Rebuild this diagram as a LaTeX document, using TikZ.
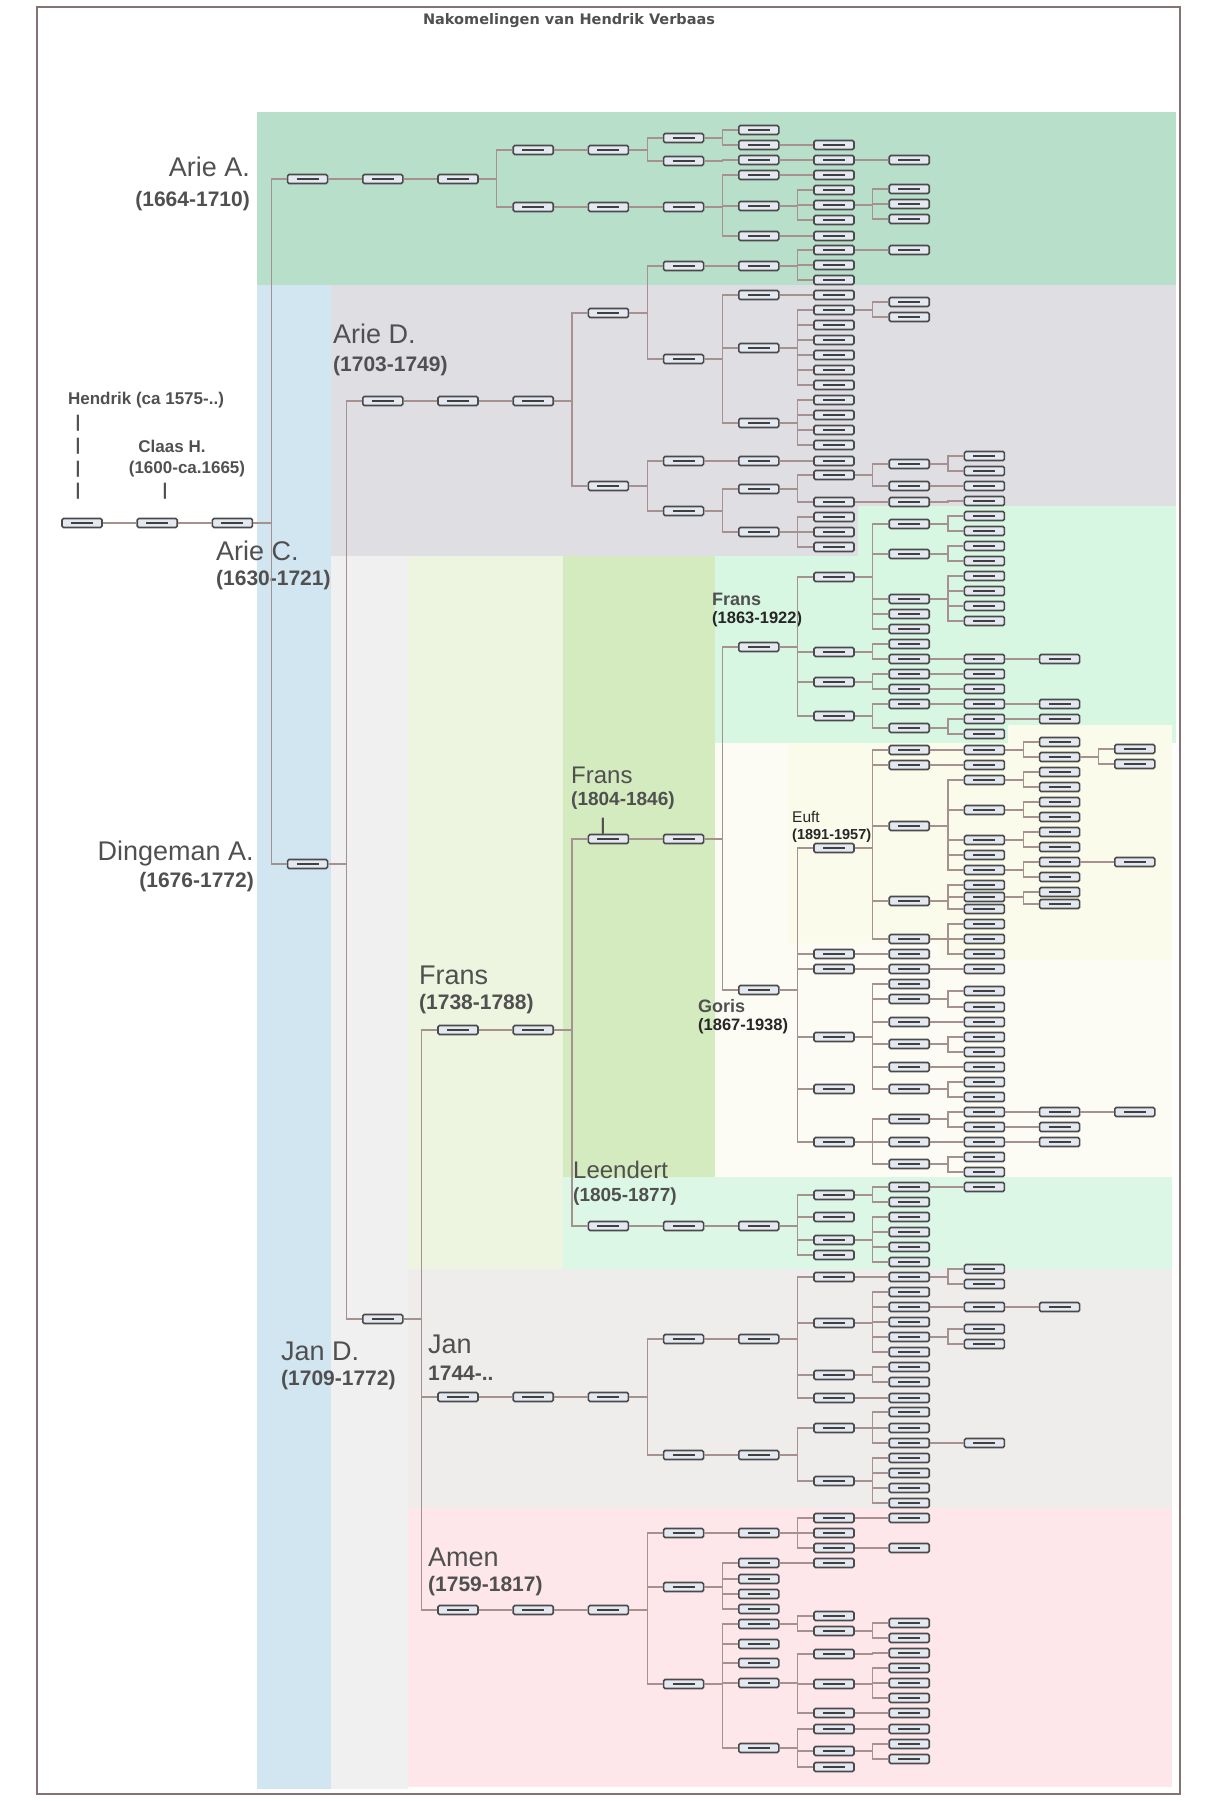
\documentclass[tikz,border=0pt]{standalone}
\usepackage{fontspec}
\setmainfont{Liberation Sans}
\newfontfamily\titlefont{DejaVu Sans}
\definecolor{ariea}{HTML}{B8DFCA}
\definecolor{ariec}{HTML}{D2E6F1}
\definecolor{aried}{HTML}{DEDEE3}
\definecolor{dinge}{HTML}{F0F0F0}
\definecolor{fransa}{HTML}{EDF4E0}
\definecolor{fransb}{HTML}{D4EABF}
\definecolor{fransc}{HTML}{D7F7E2}
\definecolor{goris}{HTML}{FCFCF5}
\definecolor{euft}{HTML}{FAFBEB}
\definecolor{leend}{HTML}{DDF7E6}
\definecolor{jan}{HTML}{EEEDEB}
\definecolor{amen}{HTML}{FDE7EB}
\definecolor{linkc}{HTML}{A69090}
\definecolor{framec}{HTML}{857373}
\definecolor{txtc}{HTML}{505050}
\definecolor{boxc}{HTML}{4A4A4A}
\definecolor{boxfill}{HTML}{E4E8F0}
\tikzset{
  pers/.style={draw=boxc, line width=1.6pt, fill=boxfill, rounded corners=1.5pt,
    minimum width=40, minimum height=9, inner sep=0pt,
    path picture={\draw[black!75, line width=1.3pt]
      ([xshift=9pt]path picture bounding box.west) -- ([xshift=-9pt]path picture bounding box.east);}},
  link/.style={draw=linkc, line width=1.1pt},
  elbow/.style={to path={-- ++(18,0) |- (\tikztotarget)}},
  bigname/.style={text=txtc, font=\fontsize{27}{30}\selectfont, inner sep=0pt},
  bigdate/.style={text=txtc, font=\fontsize{21}{24}\selectfont\bfseries, inner sep=0pt},
  midname/.style={text=txtc, font=\fontsize{24}{27}\selectfont, inner sep=0pt},
  middate/.style={text=txtc, font=\fontsize{19}{22}\selectfont\bfseries, inner sep=0pt},
  smallname/.style={text=txtc, font=\fontsize{18}{21}\selectfont\bfseries, inner sep=0pt},
  smalldate/.style={text=black!85, font=\fontsize{16.5}{19}\selectfont\bfseries, inner sep=0pt},
  tinyname/.style={text=black!85, font=\fontsize{15.5}{18}\selectfont, inner sep=0pt},
  tinydate/.style={text=black!85, font=\fontsize{14.5}{17}\selectfont\bfseries, inner sep=0pt},
  rootlbl/.style={text=txtc, font=\fontsize{17}{20}\selectfont\bfseries, inner sep=0pt}
}
% one generation step: parent in column \gen at \up, child in next column at \dn
\newcommand{\branch}[1]{%
  \foreach \gen/\up/\dn in {#1} {%
    \pgfmathtruncatemacro\nxt{\gen+1}%
    \node[pers] (n\nxt-\dn) at ({82+75.2*\nxt},\dn) {};%
    \draw[link] (n\gen-\up.east) to[elbow] (n\nxt-\dn.west);%
  }%
}
\begin{document}
\begin{tikzpicture}[x=1pt, y=-1pt]
\useasboundingbox (0,0) rectangle (1212,1801);

% Coloured bands of the branches
\fill[ariea] (257,112) rectangle (1176,285);
\fill[ariec] (257,285) rectangle (331,1789);
\fill[aried] (331,285) rectangle (1176,506);
\fill[aried] (331,506) rectangle (858,556);
\fill[dinge] (331,556) rectangle (408,1789);
\fill[fransa] (408,556) rectangle (563,1269);
\fill[fransb] (563,556) rectangle (715,1177);
\fill[fransc] (715,556) rectangle (1176,743);
\fill[fransc] (858,506) rectangle (1176,556);
\fill[goris] (715,743) rectangle (1172,1177);
\fill[goris] (1008,725) rectangle (1172,743);
\fill[euft] (788,743) -- (1010,743) -- (1010,725) -- (1172,725) -- (1172,960)
  -- (940,960) -- (940,943) -- (788,943) -- cycle;
\fill[leend] (563,1177) rectangle (1172,1269);
\fill[jan] (408,1269) rectangle (1172,1508);
\fill[amen] (408,1508) rectangle (1172,1787);

% Frame and title
\draw[framec, line width=2pt] (37,7) rectangle (1180,1794);
\node[text=txtc, font=\titlefont\fontsize{14.5}{16}\selectfont\bfseries] (title) at (569,21)
  {Nakomelingen van Hendrik Verbaas};

% Names and years
\node[rootlbl] (tHendrik) at (146,400) {Hendrik (ca 1575-..)};
\node[rootlbl] (tClaas) at (172,446) {Claas H.};
\node[rootlbl] (dClaas) at (187,469) {(1600-ca.1665)};
\foreach \py in {423,446,469,491} \node[rootlbl] (pipe\py) at (78,\py) {|};
\node[rootlbl] (pipeClaas) at (165,491) {|};
\node[rootlbl] (pipeFrans) at (603,826) {|};
\node[bigname, anchor=east] (tArieA) at (250,167) {Arie A.};
\node[bigdate, anchor=east] (dArieA) at (250,201) {(1664-1710)};
\node[bigname, anchor=west] (tArieD) at (333,334) {Arie D.};
\node[bigdate, anchor=west] (dArieD) at (333,366) {(1703-1749)};
\node[bigname, anchor=west] (tArieC) at (216,551) {Arie C.};
\node[bigdate, anchor=west] (dArieC) at (216,580) {(1630-1721)};
\node[bigname, anchor=east] (tDinge) at (254,854) {Dingeman A.};
\node[bigdate, anchor=east] (dDinge) at (254,882) {(1676-1772)};
\node[bigname, anchor=west] (tFransA) at (419,975) {Frans};
\node[bigdate, anchor=west] (dFransA) at (419,1004) {(1738-1788)};
\node[bigname, anchor=west] (tJanD) at (281,1351) {Jan D.};
\node[bigdate, anchor=west] (dJanD) at (281,1380) {(1709-1772)};
\node[bigname, anchor=west] (tJan) at (428,1344) {Jan};
\node[bigdate, anchor=west] (dJan) at (428,1373) {1744-..};
\node[bigname, anchor=west] (tAmen) at (428,1557) {Amen};
\node[bigdate, anchor=west] (dAmen) at (428,1586) {(1759-1817)};
\node[midname, anchor=west] (tFransB) at (571,775) {Frans};
\node[middate, anchor=west] (dFransB) at (571,801) {(1804-1846)};
\node[midname, anchor=west] (tLeend) at (573,1170) {Leendert};
\node[middate, anchor=west] (dLeend) at (573,1197) {(1805-1877)};
\node[smallname, anchor=west] (tFransC) at (712,599) {Frans};
\node[smalldate, anchor=west] (dFransC) at (712,619) {(1863-1922)};
\node[smallname, anchor=west] (tGoris) at (698,1006) {Goris};
\node[smalldate, anchor=west] (dGoris) at (698,1026) {(1867-1938)};
\node[tinyname, anchor=west] (tEuft) at (792,817) {Euft};
\node[tinydate, anchor=west] (dEuft) at (792,836) {(1891-1957)};

% Hendrik and Claas H.
\node[pers] (n0-523) at (82,523) {};
\branch{0/523/523, 1/523/523, 2/523/179, 2/523/864}

% Branch of Arie A.
\branch{3/179/179, 4/179/179, 5/179/150, 5/179/207,
  6/150/150, 6/207/207, 7/150/138, 7/150/161, 7/207/207,
  8/138/130, 8/138/145, 8/161/160, 8/207/175, 8/207/206, 8/207/236,
  9/145/145, 9/160/160, 9/175/175, 9/206/190, 9/206/205, 9/206/220, 9/236/236,
  10/160/160, 10/205/189, 10/205/204, 10/205/219}

% Branch of Arie D.
\branch{3/864/401, 4/401/401, 5/401/401, 6/401/313, 6/401/486,
  7/313/266, 7/313/359, 8/266/266, 9/266/250, 9/266/265, 9/266/280, 10/250/250,
  8/359/295, 8/359/348, 8/359/423, 9/295/295,
  9/348/310, 9/348/325, 9/348/340, 9/348/355, 9/348/370, 9/348/385,
  10/310/302, 10/310/317,
  9/423/400, 9/423/415, 9/423/430, 9/423/445,
  7/486/461, 7/486/511, 8/461/461, 9/461/461,
  8/511/489, 8/511/532, 9/489/475, 9/489/502,
  10/475/464, 10/475/486, 11/464/456, 11/464/471, 11/486/486,
  10/502/502, 11/502/501, 9/532/517, 9/532/532, 9/532/547}

% Jan D. and Frans (1738-1788), Frans (1804-1846)
\branch{3/864/1319, 4/1319/1030, 4/1319/1397, 4/1319/1610,
  5/1030/1030, 6/1030/839, 6/1030/1226, 7/839/839, 8/839/647, 8/839/990}

% Branch of Frans (1863-1922)
\branch{9/647/577, 9/647/652, 9/647/682, 9/647/716,
  10/577/524, 10/577/554, 10/577/599, 10/577/614, 10/577/629,
  11/524/516, 11/524/531, 11/554/546, 11/554/561,
  11/599/576, 11/599/591, 11/599/606, 11/599/621,
  10/652/644, 10/652/659, 11/659/659, 12/659/659,
  10/682/674, 10/682/689, 11/674/674, 11/689/689,
  10/716/704, 10/716/728, 11/704/704, 12/704/704,
  11/728/719, 11/728/734, 12/719/719}

% Branch of Goris (1867-1938) and Euft (1891-1957)
\branch{9/990/848, 9/990/954, 9/990/969, 9/990/1037, 9/990/1089, 9/990/1142,
  10/848/750, 10/848/765, 10/848/826, 10/848/901, 10/848/939,
  11/750/750, 12/750/742, 12/750/757, 13/757/749, 13/757/764, 11/765/765,
  11/826/780, 11/826/810, 11/826/840, 11/826/855, 11/826/870,
  12/780/772, 12/780/787, 12/810/802, 12/810/817, 12/840/832, 12/840/847,
  12/870/862, 12/870/877, 13/862/862,
  11/901/885, 11/901/897, 11/901/909, 12/897/892, 12/897/904,
  11/939/924, 11/939/939, 11/939/954,
  10/954/954, 10/969/969, 11/969/969,
  10/1037/984, 10/1037/999, 10/1037/1022, 10/1037/1044, 10/1037/1067, 10/1037/1089,
  11/999/991, 11/999/1007, 11/1022/1022, 11/1044/1037, 11/1044/1052,
  11/1067/1067, 11/1089/1082, 11/1089/1097,
  10/1142/1119, 10/1142/1142, 10/1142/1164,
  11/1119/1112, 11/1119/1127, 12/1112/1112, 13/1112/1112, 12/1127/1127,
  11/1142/1142, 12/1142/1142, 11/1164/1157, 11/1164/1172}

% Branch of Leendert (1805-1877)
\branch{7/1226/1226, 8/1226/1226,
  9/1226/1195, 9/1226/1217, 9/1226/1240, 9/1226/1255,
  10/1195/1187, 10/1195/1202, 11/1187/1187,
  10/1240/1217, 10/1240/1232, 10/1240/1247, 10/1240/1262}

% Branch of Jan (1744-..)
\branch{5/1397/1397, 6/1397/1397, 7/1397/1339, 7/1397/1455,
  8/1339/1339, 9/1339/1277, 9/1339/1323, 9/1339/1375, 9/1339/1398,
  10/1277/1277, 11/1277/1269, 11/1277/1284,
  10/1323/1292, 10/1323/1307, 10/1323/1322, 10/1323/1337, 10/1323/1352,
  11/1307/1307, 12/1307/1307, 11/1337/1329, 11/1337/1344,
  10/1375/1367, 10/1375/1382, 10/1398/1398,
  8/1455/1455, 9/1455/1428, 9/1455/1481,
  10/1428/1412, 10/1428/1428, 10/1428/1443, 11/1443/1443,
  10/1481/1458, 10/1481/1473, 10/1481/1488, 10/1481/1503}

% Branch of Amen (1759-1817)
\branch{5/1610/1610, 6/1610/1610, 7/1610/1533, 7/1610/1587, 7/1610/1684,
  8/1533/1533, 9/1533/1518, 9/1533/1533, 9/1533/1548, 10/1518/1518, 10/1548/1548,
  8/1587/1563, 8/1587/1579, 8/1587/1594, 8/1587/1609, 9/1563/1563,
  8/1684/1624, 8/1684/1644, 8/1684/1663, 8/1684/1683, 8/1684/1748,
  9/1624/1616, 9/1624/1631, 10/1631/1623, 10/1631/1638,
  9/1683/1654, 9/1683/1684, 9/1683/1713,
  10/1654/1653, 10/1684/1668, 10/1684/1683, 10/1684/1698, 10/1713/1713,
  9/1748/1729, 9/1748/1751, 9/1748/1767, 10/1729/1729, 10/1751/1744, 10/1751/1759}
\end{tikzpicture}
\end{document}
